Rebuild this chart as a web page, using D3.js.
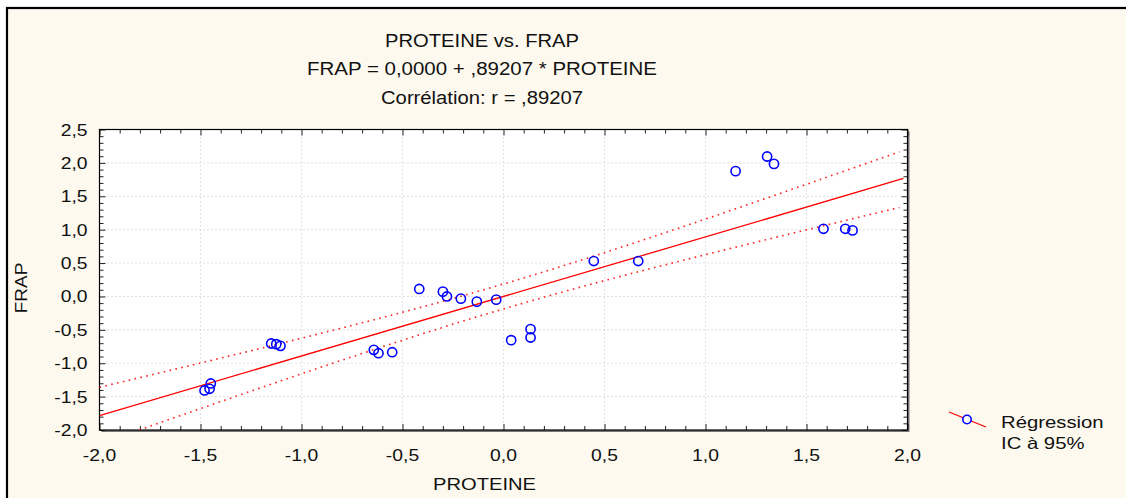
<!DOCTYPE html>
<html>
<head>
<meta charset="utf-8">
<script src="https://cdn.jsdelivr.net/npm/d3@7"></script>
<style>
  html, body { margin: 0; padding: 0; background: #ffffff; }
  svg { display: block; }
  text { font-family: "Liberation Sans", Arial, sans-serif; fill: #111; }
</style>
</head>
<body>
<svg id="chart" width="1126" height="498"></svg>
<script>
// ---- data ----
const protein = [-1.480, -1.455, -1.449, -1.150, -1.125, -1.104, -0.642, -0.619, -0.551, -0.417,
                 -0.300, -0.280, -0.211, -0.132, -0.036, 0.038, 0.134, 0.134, 0.447, 0.667,
                 1.149, 1.305, 1.339, 1.584, 1.692, 1.728];
const frap = [-1.408, -1.383, -1.303, -0.705, -0.715, -0.740, -0.800, -0.850, -0.835, 0.112,
              0.072, 0.000, -0.033, -0.078, -0.048, -0.655, -0.490, -0.615, 0.530, 0.530,
              1.876, 2.096, 1.985, 1.013, 1.013, 0.989];
const xTicks = [-2.0, -1.5, -1.0, -0.5, 0.0, 0.5, 1.0, 1.5, 2.0];
const yTicks = [-2.0, -1.5, -1.0, -0.5, 0.0, 0.5, 1.0, 1.5, 2.0, 2.5];
const titleLines = ["PROTEINE vs. FRAP", "FRAP = 0,0000 + ,89207 * PROTEINE", "Corrélation: r = ,89207"];
const legendLabels = ["Régression", "IC à 95%"];
const intercept = 0.0, slope = 0.89207, rCorr = 0.89207, tCrit = 2.0639;

// ---- layout ----
const svg = d3.select("#chart");
const W = 1126, H = 498;
const plot = { left: 99.5, top: 129.5, right: 907.5, bottom: 430 };
const fmt = v => d3.format(".1f")(v).replace(".", ",").replace("−", "-");

const x = d3.scaleLinear().domain([-2, 2]).range([plot.left, plot.right]);
const y = d3.scaleLinear().domain([-2, 2.5]).range([plot.bottom, plot.top]);

// stretch text horizontally (reference text is rendered wide)
function stretch(sel, k) {
  sel.each(function () {
    const w = this.getComputedTextLength();
    d3.select(this).attr("textLength", w * k).attr("lengthAdjust", "spacingAndGlyphs");
  });
}

// outer frame
svg.append("rect").attr("x", 7).attr("y", 8).attr("width", W + 10).attr("height", H + 10)
  .attr("fill", "#fdf9ee").attr("stroke", "#000").attr("stroke-width", 2.2);

// plot background + shadow
svg.append("rect").attr("x", plot.left + 2).attr("y", plot.top + 2)
  .attr("width", plot.right - plot.left).attr("height", plot.bottom - plot.top).attr("fill", "#777");
svg.append("rect").attr("x", plot.left).attr("y", plot.top)
  .attr("width", plot.right - plot.left).attr("height", plot.bottom - plot.top).attr("fill", "#fff");

// grid
const grid = svg.append("g");
grid.selectAll("line.gx").data(xTicks.slice(1, -1)).join("line")
  .attr("x1", d => x(d)).attr("x2", d => x(d)).attr("y1", plot.top).attr("y2", plot.bottom)
  .attr("stroke", "#c4c4c4").attr("stroke-width", 1).attr("stroke-dasharray", "1,3");
grid.selectAll("line.gy").data(yTicks.slice(1, -1)).join("line")
  .attr("y1", d => y(d)).attr("y2", d => y(d)).attr("x1", plot.left).attr("x2", plot.right)
  .attr("stroke", "#c4c4c4").attr("stroke-width", 1).attr("stroke-dasharray", "1,3");

// axes (inward ticks, minor every 0.1)
const xMinor = d3.range(-20, 21).map(i => i / 10);
const yMinor = d3.range(-20, 26).map(i => i / 10);
const ax = svg.append("g").attr("transform", `translate(0,${plot.bottom})`)
  .call(d3.axisBottom(x).tickValues(xMinor).tickSize(-4).tickFormat(""));
const axTop = svg.append("g").attr("transform", `translate(0,${plot.top})`)
  .call(d3.axisTop(x).tickValues(xMinor).tickSize(-4).tickFormat(""));
const ay = svg.append("g").attr("transform", `translate(${plot.left},0)`)
  .call(d3.axisLeft(y).tickValues(yMinor).tickSize(-4).tickFormat(""));
const ayR = svg.append("g").attr("transform", `translate(${plot.right},0)`)
  .call(d3.axisRight(y).tickValues(yMinor).tickSize(-4).tickFormat(""));
[ax, axTop, ay, ayR].forEach(g => {
  g.select(".domain").remove();
  g.selectAll(".tick line").attr("stroke", "#222").attr("stroke-width", 1);
});
const isMajor = d => Math.abs(d * 2 - Math.round(d * 2)) < 1e-9;
ax.selectAll(".tick").filter(isMajor).select("line").attr("y2", -6);
axTop.selectAll(".tick").filter(isMajor).select("line").attr("y2", 6);
ay.selectAll(".tick").filter(isMajor).select("line").attr("x2", 6);
ayR.selectAll(".tick").filter(isMajor).select("line").attr("x2", -6);

// plot border
svg.append("rect").attr("x", plot.left).attr("y", plot.top)
  .attr("width", plot.right - plot.left).attr("height", plot.bottom - plot.top)
  .attr("fill", "none").attr("stroke", "#000").attr("stroke-width", 1.2);

// tick labels
svg.append("g").selectAll("text").data(xTicks).join("text")
  .attr("x", d => x(d)).attr("y", 461).attr("text-anchor", "middle")
  .attr("font-size", 16.5).text(fmt).call(stretch, 1.17);
svg.append("g").selectAll("text").data(yTicks).join("text")
  .attr("x", 87.5).attr("y", d => y(d) + 6).attr("text-anchor", "end")
  .attr("font-size", 16.5).text(fmt).call(stretch, 1.17);

// axis titles
svg.append("text").attr("x", 484.5).attr("y", 490).attr("text-anchor", "middle")
  .attr("font-size", 16.5).attr("textLength", 103).attr("lengthAdjust", "spacingAndGlyphs")
  .text("PROTEINE");
svg.append("text").attr("transform", "translate(27,288) rotate(-90)").attr("text-anchor", "middle")
  .attr("font-size", 16.5).text("FRAP").call(stretch, 1.15);

// title
const titleY = [46.5, 75, 104];
const titleW = [194, 350, 202];
svg.append("g").selectAll("text").data(titleLines).join("text")
  .attr("x", 482).attr("y", (d, i) => titleY[i]).attr("text-anchor", "middle")
  .attr("font-size", 17.5)
  .attr("textLength", (d, i) => titleW[i]).attr("lengthAdjust", "spacingAndGlyphs")
  .text(d => d);

// regression line and 95% CI (computed from the fit statistics)
svg.append("clipPath").attr("id", "clip").append("rect")
  .attr("x", plot.left).attr("y", plot.top)
  .attr("width", plot.right - plot.left).attr("height", plot.bottom - plot.top);
const n = protein.length;
const se = Math.sqrt((1 - rCorr * rCorr) * (n - 1) / (n - 2));
const half = v => tCrit * se * Math.sqrt(1 / n + (v * v) / (n - 1));
const fit = v => intercept + slope * v;
const bandX = d3.range(-2, 1.9601, 0.02);
const gFit = svg.append("g").attr("clip-path", "url(#clip)");
const line = d3.line().x(d => x(d[0])).y(d => y(d[1]));
gFit.append("path").datum([[-2, fit(-2)], [1.98, fit(1.98)]])
  .attr("d", line).attr("fill", "none").attr("stroke", "#ff0000").attr("stroke-width", 1.3);
[1, -1].forEach(sgn => {
  gFit.append("path").datum(bandX.map(v => [v, fit(v) + sgn * half(v)]))
    .attr("d", line).attr("fill", "none").attr("stroke", "#ff2020")
    .attr("stroke-width", 1.6).attr("stroke-dasharray", "1.6,4.4");
});

// points
svg.append("g").selectAll("circle").data(protein.map((p, i) => [p, frap[i]])).join("circle")
  .attr("cx", d => x(d[0])).attr("cy", d => y(d[1])).attr("r", 4.6)
  .attr("fill", "none").attr("stroke", "#0000ff").attr("stroke-width", 1.6);

// legend
const lg = svg.append("g");
lg.append("line").attr("x1", 949).attr("y1", 412).attr("x2", 986).attr("y2", 427)
  .attr("stroke", "#ff0000").attr("stroke-width", 1.2);
lg.append("circle").attr("cx", 967).attr("cy", 419.5).attr("r", 4.2)
  .attr("fill", "#fff").attr("stroke", "#0000ff").attr("stroke-width", 1.6);
lg.selectAll("text").data(legendLabels).join("text")
  .attr("x", 1001).attr("y", (d, i) => 427.5 + i * 21.5).attr("font-size", 16.5)
  .text(d => d).call(stretch, 1.23);
</script>
</body>
</html>
